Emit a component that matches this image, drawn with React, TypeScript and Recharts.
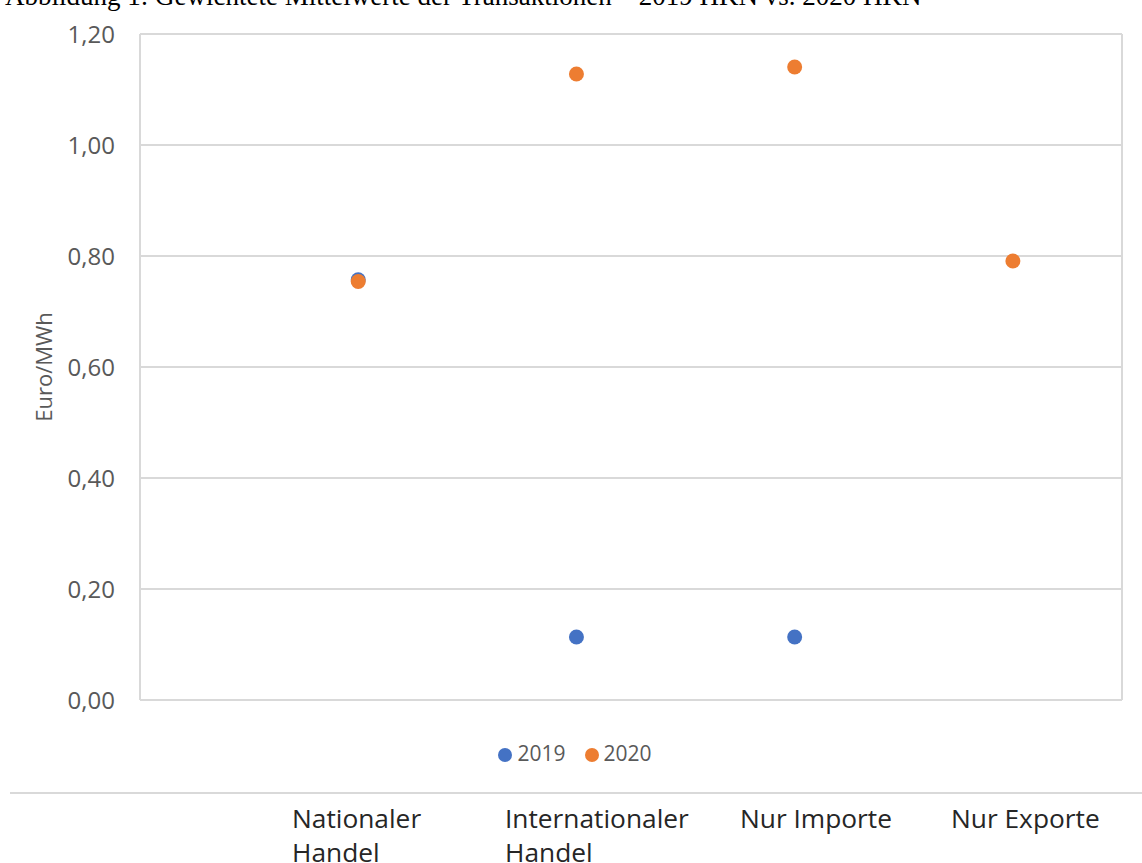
import React from 'react';
import { ScatterChart, Scatter, XAxis, YAxis, CartesianGrid, Legend } from 'recharts';

const categories = ['Nationaler Handel', 'Internationaler Handel', 'Nur Importe', 'Nur Exporte'];
const categoryLines = [['Nationaler', 'Handel'], ['Internationaler', 'Handel'], ['Nur Importe'], ['Nur Exporte']];
const categoryX = [2, 4, 6, 8];
const values2019: (number | null)[] = [0.757, 0.1135, 0.1135, null];
const values2020: (number | null)[] = [0.754, 1.128, 1.1405, 0.791];
const yTicks = [0, 0.2, 0.4, 0.6, 0.8, 1.0, 1.2];
const xTicks = [0, 1, 2, 3, 4, 5, 6, 7, 8, 9];
const labelLeft = [292, 505, 740, 951];

const BLUE = '#4472C4';
const ORANGE = '#ED7D31';
const FONT = '"Open Sans", sans-serif';

const build = (vals: (number | null)[]) =>
  vals
    .map((v, i) => ({ x: categoryX[i], y: v, name: categories[i] }))
    .filter((d) => d.y !== null);

const data2019 = build(values2019);
const data2020 = build(values2020);

const dot = (color: string) => (p: any) => <circle cx={p.cx} cy={p.cy} r={7.5} fill={color} />;

const LegendContent = (props: any) => {
  const { payload } = props;
  return (
    <div style={{ height: 106, display: 'flex', alignItems: 'center', justifyContent: 'center', fontFamily: FONT, fontSize: 21, color: '#595959', paddingLeft: 28 }}>
      {(payload || []).map((e: any, i: number) => (
        <span key={i} style={{ display: 'inline-flex', alignItems: 'center', marginLeft: i ? 19 : 0 }}>
          <span style={{ width: 14, height: 14, borderRadius: 7, background: e.color, display: 'inline-block', marginRight: 5, marginTop: 3 }} />
          {e.value}
        </span>
      ))}
    </div>
  );
};

export default function App() {
  return (
    <div style={{ position: 'absolute', left: 0, top: 0, width: 1142, height: 863, overflow: 'hidden', background: '#fff' }}>
      <div style={{ position: 'absolute', left: 5, top: -17, fontFamily: '"Liberation Serif", serif', fontSize: 27, lineHeight: '27px', whiteSpace: 'nowrap', color: '#000' }}>
        Abbildung 1: Gewichtete Mittelwerte der Transaktionen – 2019 HKN vs. 2020 HKN
      </div>
      <div style={{ position: 'absolute', left: 0, top: 0 }}>
        <ScatterChart width={1142} height={806} margin={{ top: 34, right: 20, left: 0, bottom: 0 }}>
          <CartesianGrid stroke="#d9d9d9" strokeWidth={2} />
          <XAxis type="number" dataKey="x" domain={[0, 9]} ticks={xTicks} tick={false} axisLine={false} tickLine={false} height={0} />
          <YAxis
            type="number"
            dataKey="y"
            domain={[0, 1.2]}
            ticks={yTicks}
            width={140}
            axisLine={false}
            tickLine={false}
            tickMargin={19}
            tick={{ fill: '#595959', fontSize: 24, fontFamily: FONT }}
            tickFormatter={(v: number) => v.toFixed(2).replace('.', ',')}
          />
          <Legend verticalAlign="bottom" content={<LegendContent />} />
          <Scatter name="2019" data={data2019} fill={BLUE} shape={dot(BLUE)} isAnimationActive={false} />
          <Scatter name="2020" data={data2020} fill={ORANGE} shape={dot(ORANGE)} isAnimationActive={false} />
        </ScatterChart>
      </div>
      <div style={{ position: 'absolute', left: 43, top: 367, transform: 'translate(-50%, -50%) rotate(-90deg)', fontFamily: FONT, fontSize: 22, color: '#595959', whiteSpace: 'nowrap' }}>
        Euro/MWh
      </div>
      <div style={{ position: 'absolute', left: 10, top: 792, width: 1132, height: 2, background: '#d9d9d9' }} />
      {categoryLines.map((lines, i) => (
        <div key={i} style={{ position: 'absolute', left: labelLeft[i], top: 801, fontFamily: FONT, fontSize: 26.3, lineHeight: '34px', color: '#262626', whiteSpace: 'nowrap' }}>
          {lines.map((l, j) => (
            <div key={j}>{l}</div>
          ))}
        </div>
      ))}
    </div>
  );
}
